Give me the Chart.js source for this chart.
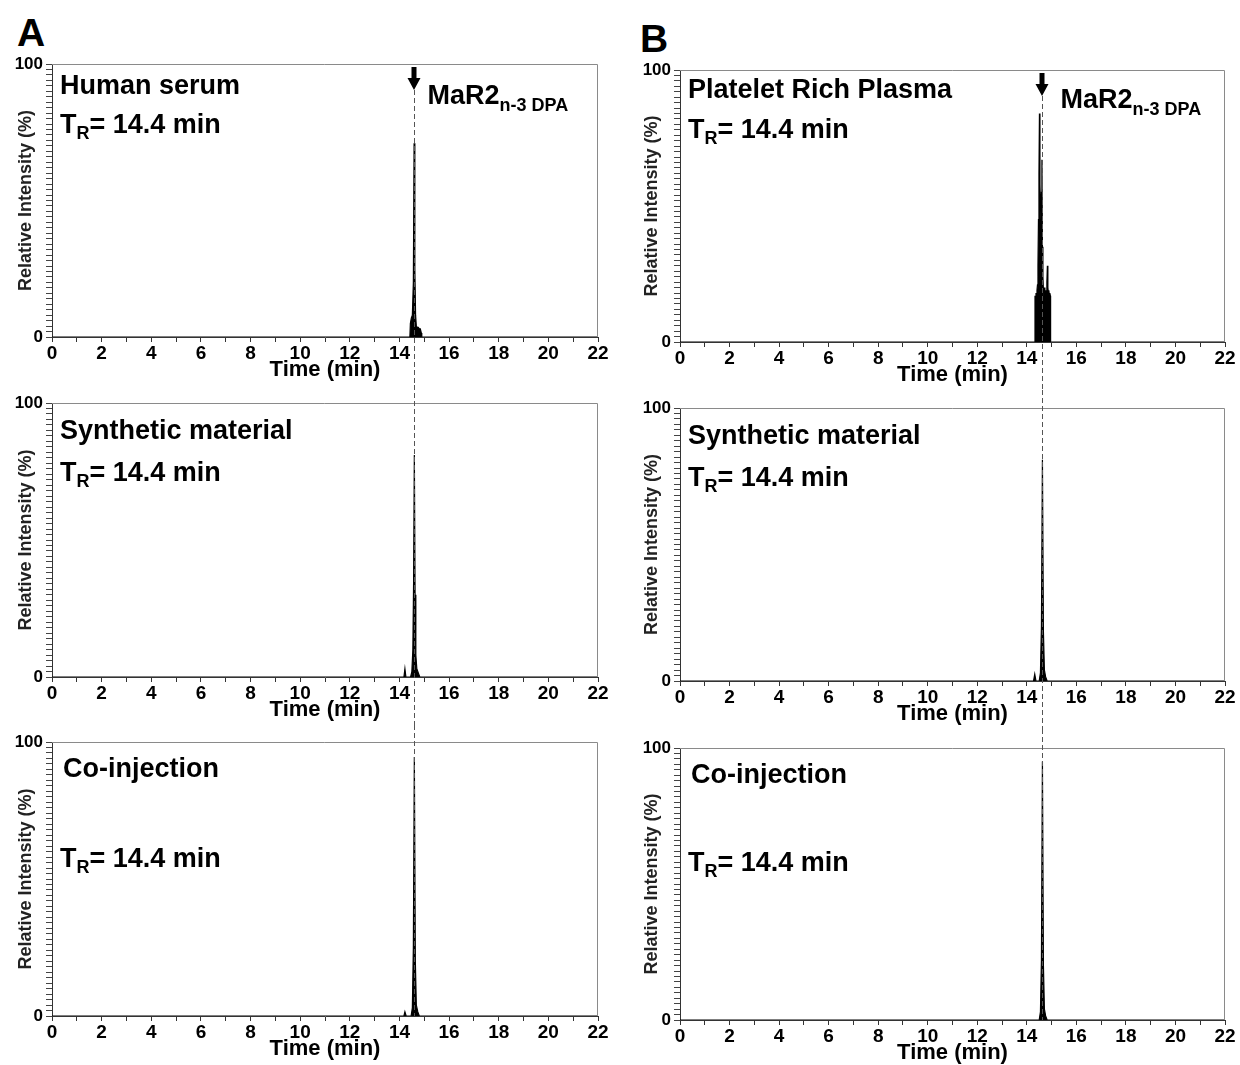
<!DOCTYPE html>
<html>
<head>
<meta charset="utf-8">
<script src="https://cdn.jsdelivr.net/npm/chart.js@4.4.0/dist/chart.umd.min.js"></script>
<style>
  body { margin: 0; background: #fff; width: 1240px; height: 1065px; overflow: hidden; position: relative; }
  canvas { position: absolute; }
  .letter { position: absolute; font: bold 39px "Liberation Sans", Arial, sans-serif; color: #000; line-height: 1; }
</style>
</head>
<body>
<div class="letter" style="left:17px;top:13px">A</div>
<div class="letter" style="left:640px;top:19px">B</div>
<canvas id="a1"></canvas>
<canvas id="a2"></canvas>
<canvas id="a3"></canvas>
<canvas id="b1"></canvas>
<canvas id="b2"></canvas>
<canvas id="b3"></canvas>
<script>
/* ============================
      DATA
============================ */
const xTickLabels = [0, 2, 4, 6, 8, 10, 12, 14, 16, 18, 20, 22];
const yTickLabels = [0, 100];
const markTime = 14.6;

// A - human serum
const serumTime = [0, 14.42, 14.44, 14.48, 14.52, 14.56, 14.59, 14.62, 14.65, 14.68, 14.72, 14.76, 14.80, 14.84, 14.88, 14.90, 22];
const serumInt  = [0, 0, 5, 7, 8, 20, 71, 25, 8, 4, 3.5, 3.5, 3, 3, 1.5, 0, 0];

// A - synthetic material
const synthATime = [0, 14.18, 14.22, 14.26, 14.45, 14.50, 14.54, 14.57, 14.60, 14.63, 14.66, 14.70, 14.76, 14.82, 22];
const synthAInt  = [0, 0, 3, 0, 0, 2, 10, 35, 81, 30, 8, 3, 1.5, 0, 0];

// A - co-injection
const coinjATime = [0, 14.18, 14.22, 14.27, 14.47, 14.52, 14.56, 14.60, 14.64, 14.68, 14.74, 14.80, 22];
const coinjAInt  = [0, 0, 1.5, 0, 0, 3, 25, 94.5, 20, 4, 1.5, 0, 0];

// B - platelet rich plasma
const prpTime = [0, 14.32, 14.33, 14.35, 14.37, 14.39, 14.41, 14.43, 14.45, 14.47, 14.49, 14.51, 14.53, 14.55, 14.57, 14.59, 14.61, 14.63, 14.65, 14.67, 14.69, 14.71, 14.73, 14.75, 14.77, 14.79, 14.81, 14.83, 14.85, 14.87, 14.89, 14.91, 14.93, 14.95, 14.96, 22];
const prpInt  = [0, 0, 17, 16, 18, 16, 19, 21, 28, 45, 62, 84, 58, 50, 45, 55, 67, 35, 24, 19, 17, 20, 18, 17, 19, 18, 22, 28, 20, 18, 19, 17, 18, 17, 0, 0];

// B - synthetic material
const synthBTime = [0, 14.27, 14.32, 14.37, 14.50, 14.55, 14.59, 14.63, 14.67, 14.71, 14.76, 14.82, 22];
const synthBInt  = [0, 0, 2.5, 0, 0, 3, 20, 81, 18, 4, 1.5, 0, 0];

// B - co-injection
const coinjBTime = [0, 14.50, 14.55, 14.59, 14.63, 14.67, 14.71, 14.76, 14.82, 22];
const coinjBInt  = [0, 0, 3, 22, 95, 20, 4, 1.5, 0, 0];

const trText = "= 14.4 min";

/* ============================
      LAYOUT (pixels)
============================ */
const FONT = '"Liberation Sans", Arial, sans-serif';
const panels = [
    { id: "a1", left: 0,   top: 40,  plotL: 52,  plotR: 598,  plotT: 64,  plotB: 337, yTitlePad: 16,
      name: "Human serum", nameDx: 8, nameDy: 23, trDx: 8, trDy: 62, arrow: true, labDx: 13, labDy: 33,
      time: serumTime, inten: serumInt, line: "top" },
    { id: "a2", left: 0,   top: 385, plotL: 52,  plotR: 598,  plotT: 403, plotB: 677, yTitlePad: 16,
      name: "Synthetic material", nameDx: 8, nameDy: 29, trDx: 8, trDy: 71,
      time: synthATime, inten: synthAInt, line: "mid" },
    { id: "a3", left: 0,   top: 725, plotL: 52,  plotR: 598,  plotT: 742, plotB: 1016, yTitlePad: 16,
      name: "Co-injection", nameDx: 11, nameDy: 28, trDx: 8, trDy: 118,
      time: coinjATime, inten: coinjAInt, line: "bottom" },
    { id: "b1", left: 620, top: 44,  plotL: 680, plotR: 1225, plotT: 70,  plotB: 342, yTitlePad: 22,
      name: "Platelet Rich Plasma", nameDx: 8, nameDy: 21, trDx: 8, trDy: 61, arrow: true, labDx: 18, labDy: 31,
      time: prpTime, inten: prpInt, line: "top" },
    { id: "b2", left: 620, top: 390, plotL: 680, plotR: 1225, plotT: 408, plotB: 681, yTitlePad: 22,
      name: "Synthetic material", nameDx: 8, nameDy: 29, trDx: 8, trDy: 71,
      time: synthBTime, inten: synthBInt, line: "mid" },
    { id: "b3", left: 620, top: 729, plotL: 680, plotR: 1225, plotT: 748, plotB: 1020, yTitlePad: 22,
      name: "Co-injection", nameDx: 11, nameDy: 28, trDx: 8, trDy: 116,
      time: coinjBTime, inten: coinjBInt, line: "bottom" }
];
const CANVAS_W = 620;
const X_AXIS_H = 48;

/* ============================
      PLUGIN: frame, texts, arrow, dashed line
============================ */
function subText(ctx, x, y, main, sub, size, subSize, drop) {
    ctx.font = "bold " + size + "px " + FONT;
    ctx.fillText(main, x, y);
    let w = ctx.measureText(main).width;
    ctx.font = "bold " + subSize + "px " + FONT;
    ctx.fillText(sub, x + w, y + drop);
    return x + w + ctx.measureText(sub).width;
}

const decor = {
    id: "decor",
    afterDraw(chart, args, p) {
        const { ctx, chartArea: a, scales: { x } } = chart;
        ctx.save();
        // top + right frame
        ctx.strokeStyle = "#8a8a8a";
        ctx.lineWidth = 1;
        ctx.beginPath();
        ctx.moveTo(a.left, a.top + 0.5);
        ctx.lineTo(a.right - 0.5, a.top + 0.5);
        ctx.lineTo(a.right - 0.5, a.bottom);
        ctx.stroke();

        // dashed marker line
        const px = Math.round(x.getPixelForValue(markTime)) + 0.5;
        let y0 = 0, y1 = chart.height;
        if (p.line === "top") y0 = a.top + 26;
        if (p.line === "bottom") y1 = a.bottom;
        ctx.setLineDash([5, 3]);
        ctx.strokeStyle = "#555";
        ctx.beginPath();
        ctx.moveTo(px, y0);
        ctx.lineTo(px, y1);
        ctx.stroke();
        ctx.setLineDash([]);

        // texts
        ctx.fillStyle = "#000";
        ctx.textBaseline = "middle";
        ctx.textAlign = "left";
        ctx.font = "bold 27px " + FONT;
        ctx.fillText(p.name, a.left + p.nameDx, a.top + p.nameDy);
        const tx = subText(ctx, a.left + p.trDx, a.top + p.trDy, "T", "R", 27, 18, 8);
        ctx.font = "bold 27px " + FONT;
        ctx.fillText(trText, tx, a.top + p.trDy);

        if (p.arrow) {
            const ax = px - 0.5, at = a.top + 3;
            ctx.beginPath();
            ctx.rect(ax - 2.5, at, 5, 12);
            ctx.moveTo(ax - 6.5, at + 11);
            ctx.lineTo(ax + 6.5, at + 11);
            ctx.lineTo(ax, at + 23);
            ctx.closePath();
            ctx.fill();
            subText(ctx, px + p.labDx, a.top + p.labDy, "MaR2", "n-3 DPA", 27, 18, 9);
        }
        ctx.restore();
    }
};

/* ============================
      CHARTS
============================ */
panels.forEach(p => {
    const cv = document.getElementById(p.id);
    const h = p.plotB + X_AXIS_H - p.top;
    cv.width = CANVAS_W;
    cv.height = h;
    cv.style.left = p.left + "px";
    cv.style.top = p.top + "px";

    new Chart(cv, {
        type: "line",
        data: {
            datasets: [{
                data: p.time.map((t, i) => ({ x: t, y: p.inten[i] })),
                borderColor: "#000",
                backgroundColor: "#000",
                borderWidth: 1.2,
                fill: "origin",
                pointRadius: 0,
                tension: 0
            }]
        },
        options: {
            responsive: false,
            animation: false,
            devicePixelRatio: 1,
            layout: { padding: { left: 0, top: p.plotT - p.top, right: p.left + CANVAS_W - p.plotR, bottom: 0 } },
            plugins: {
                legend: { display: false },
                tooltip: { enabled: false },
                decor: p
            },
            scales: {
                x: {
                    type: "linear",
                    min: 0, max: 22,
                    afterFit: s => { s.height = X_AXIS_H; },
                    ticks: {
                        stepSize: 1, autoSkip: false, maxRotation: 0, padding: 0,
                        color: "#000", font: { family: FONT, size: 19, weight: "bold" },
                        callback: v => xTickLabels.includes(v) ? String(v) : ""
                    },
                    grid: { drawOnChartArea: false, tickLength: 5, color: "#333" },
                    border: { color: "#333", width: 1 },
                    title: {
                        display: true, text: "Time (min)", color: "#000",
                        font: { family: FONT, size: 22, weight: "bold" },
                        padding: { top: 0, bottom: 2 }
                    }
                },
                y: {
                    min: 0, max: 100,
                    afterFit: s => { s.width = p.plotL - p.left; },
                    ticks: {
                        stepSize: 2, autoSkip: false, padding: 3,
                        color: "#000", font: { family: FONT, size: 17, weight: "bold" },
                        callback: v => yTickLabels.includes(v) ? String(v) : ""
                    },
                    grid: { drawOnChartArea: false, tickLength: 6, color: "#444" },
                    border: { color: "#333", width: 1 },
                    title: {
                        display: true, text: "Relative Intensity (%)", color: "#222",
                        font: { family: FONT, size: 18, weight: "bold" },
                        padding: { top: p.yTitlePad - 1, bottom: 0 }
                    }
                }
            }
        },
        plugins: [decor]
    });
});
</script>
</body>
</html>
